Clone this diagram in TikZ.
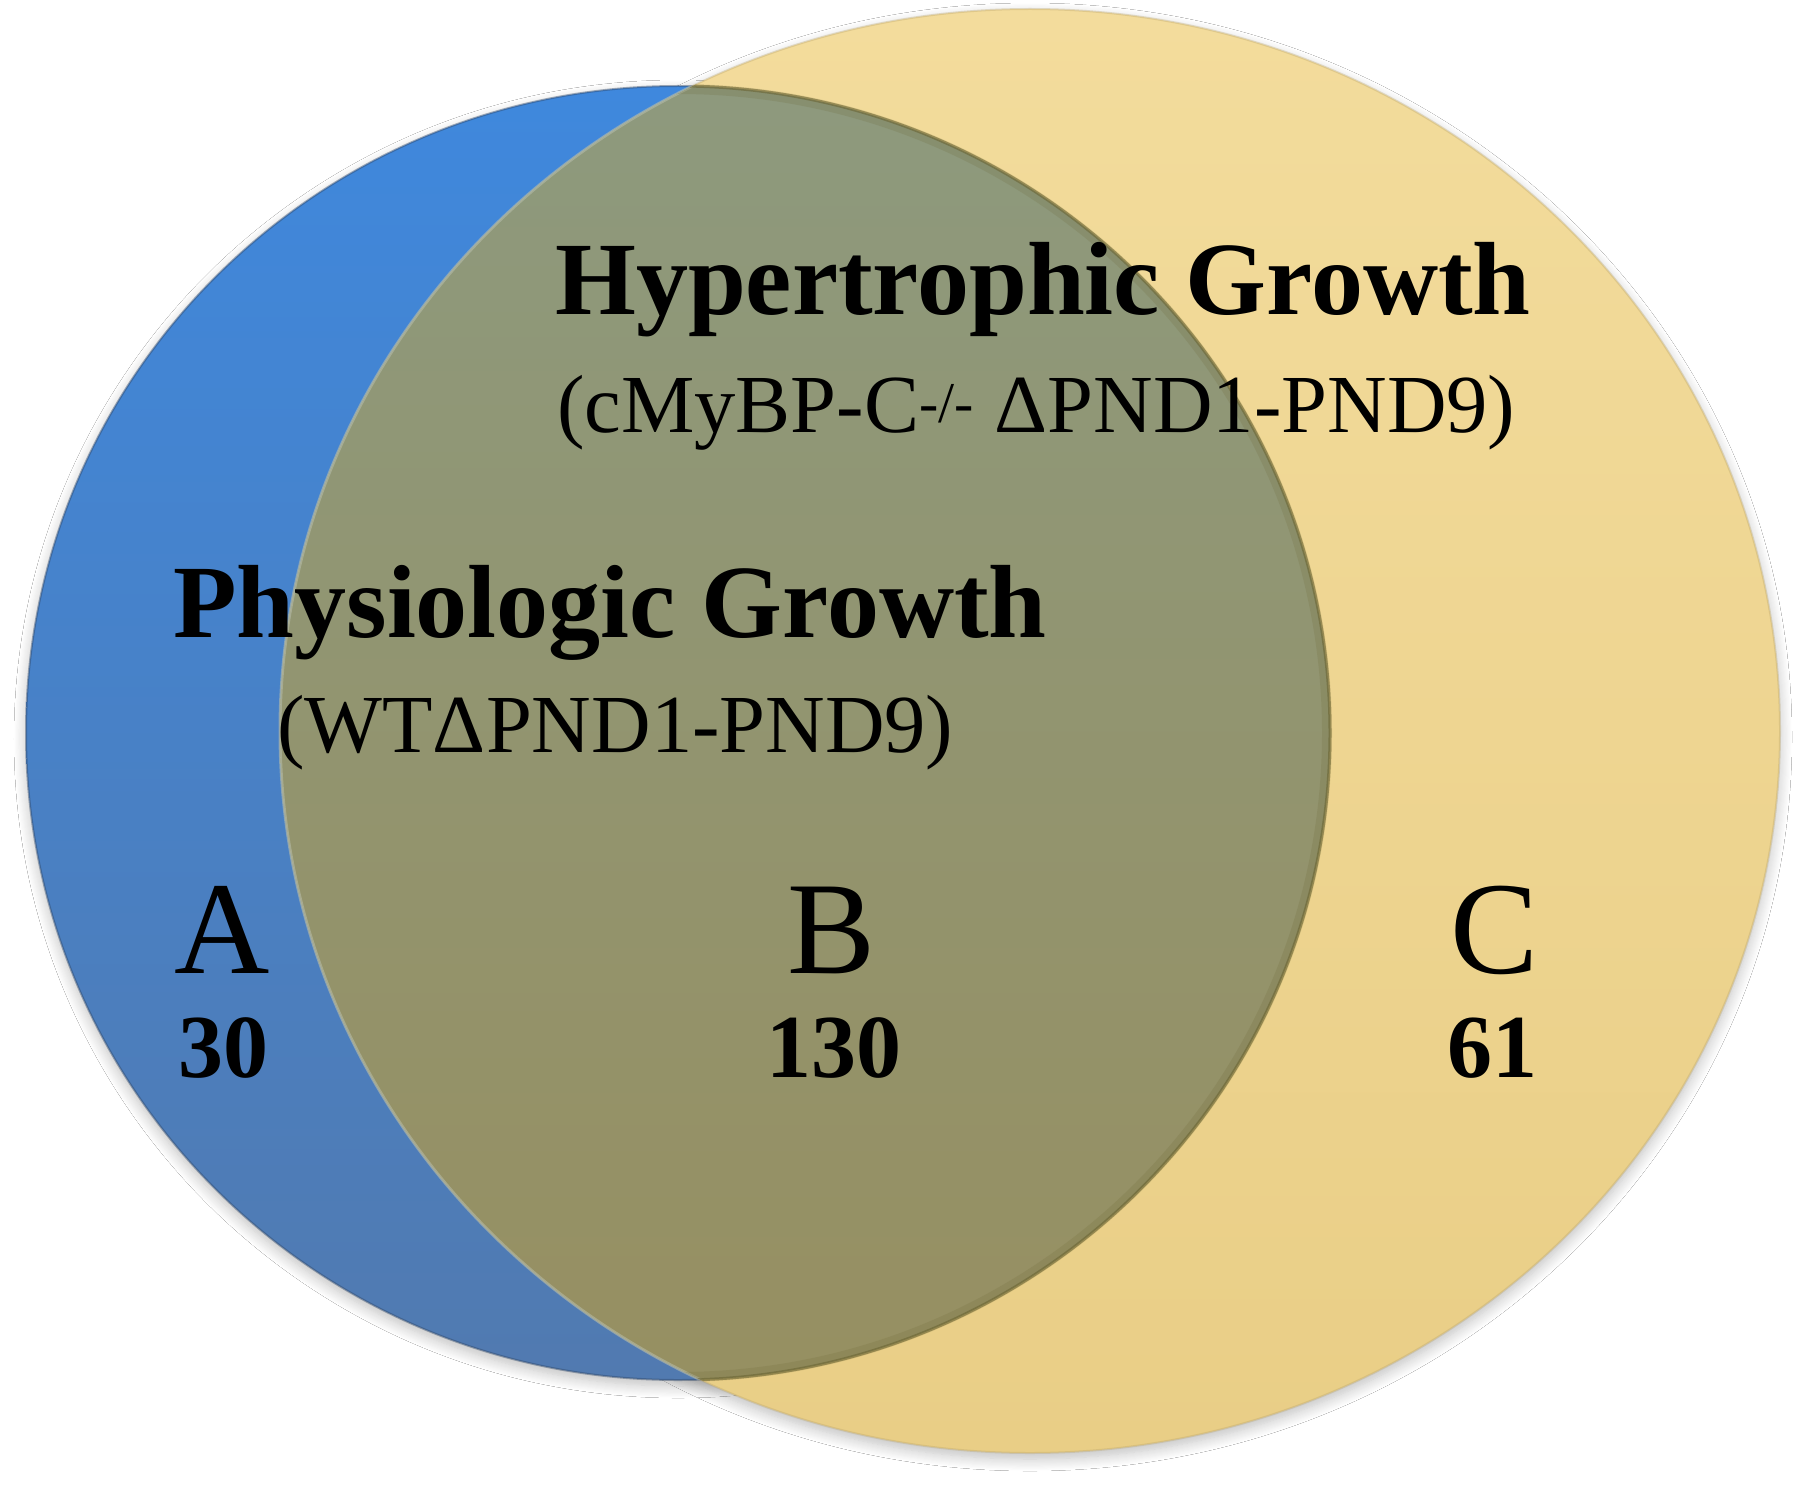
\documentclass[tikz,border=0pt]{standalone}
\usepackage{fontspec}
\setmainfont{Liberation Serif}
\usetikzlibrary{shadows.blur}
\definecolor{bTop}{HTML}{3F88DD}
\definecolor{bMid}{HTML}{4A80C6}
\definecolor{bBot}{HTML}{517AB0}
\definecolor{yTop}{HTML}{F3DC9C}
\definecolor{yMid}{HTML}{EDD38C}
\definecolor{yBot}{HTML}{E9CE86}
\definecolor{oTop}{HTML}{8D9A7F}
\definecolor{oMid}{HTML}{8F936E}
\definecolor{oBot}{HTML}{978F60}
\definecolor{edgeO}{HTML}{6B6533}
\tikzset{
  shadowstyle/.style={blur shadow={shadow xshift=0pt, shadow yshift=-6pt, shadow blur radius=12pt, shadow opacity=25, shadow blur steps=12}},
  titletxt/.style={anchor=base west, inner sep=0pt, font=\fontsize{104}{110}\selectfont\bfseries},
  subtxt/.style={anchor=base west, inner sep=0pt, font=\fontsize{82.5}{90}\selectfont},
  lettertxt/.style={anchor=base, inner sep=0pt, font=\fontsize{132}{140}\selectfont},
  numtxt/.style={anchor=base, inner sep=0pt, font=\fontsize{90}{96}\selectfont\bfseries}
}
\begin{document}
\begin{tikzpicture}[x=1pt,y=-1pt]
\useasboundingbox[fill=white] (0,0) rectangle (1801,1495);
% shadows
\path[shadowstyle] (678,733) ellipse[x radius=652pt, y radius=647pt];
\path[shadowstyle] (1030,731) ellipse[x radius=750pt, y radius=722pt];
% blue set
\shade[top color=bTop, middle color=bMid, bottom color=bBot] (678,733) ellipse[x radius=652pt, y radius=647pt];
\draw[bBot!60!black, line width=2pt, opacity=0.45] (678,733) ellipse[x radius=652pt, y radius=647pt];
% yellow set
\shade[top color=yTop, middle color=yMid, bottom color=yBot] (1030,731) ellipse[x radius=750pt, y radius=722pt];
\draw[yBot!80!black, line width=2pt, opacity=0.35] (1030,731) ellipse[x radius=750pt, y radius=722pt];
% overlap
\begin{scope}
  \clip (678,733) ellipse[x radius=652pt, y radius=647pt];
  \shade[top color=oTop, middle color=oMid, bottom color=oBot] (1030,731) ellipse[x radius=750pt, y radius=722pt];
  \draw[oTop!60!white, line width=3pt, opacity=0.5] (1030,731) ellipse[x radius=750pt, y radius=722pt];
\end{scope}
\begin{scope}
  \clip (1030,731) ellipse[x radius=750pt, y radius=722pt];
  \draw[edgeO, line width=10pt, opacity=0.18] (678,733) ellipse[x radius=649pt, y radius=644pt];
  \draw[edgeO, line width=3pt, opacity=0.6] (678,733) ellipse[x radius=652pt, y radius=647pt];
\end{scope}
% texts
\node[titletxt] (hyp) at (555,315) {Hypertrophic Growth};
\node[subtxt] (hypsub) at (557,432) {(cMyBP-C\textsuperscript{-/-} ΔPND1-PND9)};
\node[titletxt] (phy) at (173,637) {Physiologic Growth};
\node[subtxt] (physub) at (277,752) {(WTΔPND1-PND9)};
\node[lettertxt] (A) at (222,973) {A};
\node[lettertxt] (B) at (832,973) {B};
\node[lettertxt] (C) at (1495,973) {C};
\node[numtxt] (nA) at (223,1077) {30};
\node[numtxt] (nB) at (834,1077) {130};
\node[numtxt] (nC) at (1492,1077) {61};
\end{tikzpicture}
\end{document}
